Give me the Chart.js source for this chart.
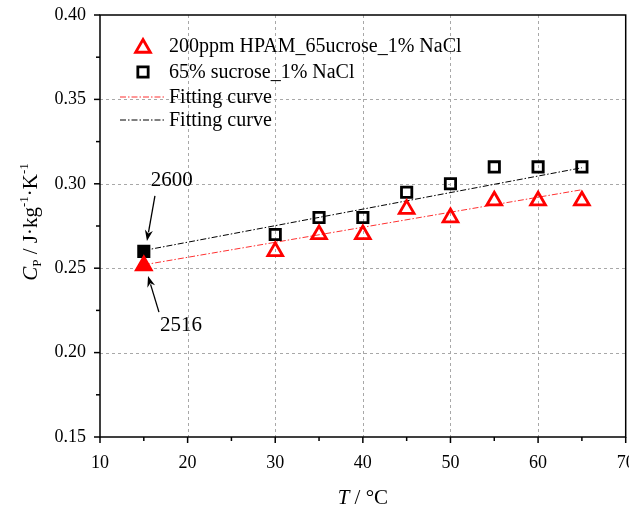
<!DOCTYPE html>
<html>
<head>
<meta charset="utf-8">
<script src="https://cdn.jsdelivr.net/npm/chart.js@4.4.1/dist/chart.umd.min.js"></script>
<style>
  html, body { margin: 0; padding: 0; background: #fff; width: 629px; height: 507px; overflow: hidden; }
  #wrap { width: 637px; height: 507px; position: relative; }
</style>
</head>
<body>
<div id="wrap"><canvas id="c"></canvas></div>
<script>
// Temperatures (°C) and specific heat readings
const temps = [15, 30, 35, 40, 45, 50, 55, 60, 65];
const cpHpam = [0.2516, 0.26, 0.27, 0.27, 0.285, 0.28, 0.29, 0.29, 0.29];
const cpSucrose = [0.26, 0.27, 0.28, 0.28, 0.295, 0.30, 0.31, 0.31, 0.31];

// Linear fit end points
const fitT = [15, 65];
const fitHpam = [0.252, 0.2965];
const fitSucrose = [0.2605, 0.3095];

// Axis ticks
const xTicks = [10, 20, 30, 40, 50, 60, 70];
const yTicks = [0.15, 0.20, 0.25, 0.30, 0.35, 0.40];

const seriesNames = ['200ppm HPAM_65ucrose_1% NaCl', '65% sucrose_1% NaCl', 'Fitting curve', 'Fitting curve'];

const SERIF = "'Liberation Serif', 'Times New Roman', serif";
const RED = '#ff0000';

const toPts = (xs, ys) => xs.map((x, i) => ({ x, y: ys[i] }));
const fillFirst = (color, n) => Array.from({ length: n }, (_, i) => i === 0 ? color : 'rgba(0,0,0,0)');

// Callouts that mark the starting values (value shown in J·kg⁻¹·K⁻¹ ×10⁴)
const callouts = [
  { value: cpSucrose[0], label: [18.2, 0.3022], tail: [16.27, 0.2928], head: [15.36, 0.2661] },
  { value: cpHpam[0],    label: [19.24, 0.2163], tail: [16.73, 0.2240], head: [15.48, 0.2454] }
];

function richText(ctx, parts, x, y, align) {
  let total = 0;
  parts.forEach(p => {
    ctx.font = (p.italic ? 'italic ' : '') + p.size + 'px ' + SERIF;
    p.w = ctx.measureText(p.t).width;
    total += p.w;
  });
  let cx = align === 'center' ? x - total / 2 : x;
  ctx.textBaseline = 'alphabetic';
  ctx.textAlign = 'left';
  parts.forEach(p => {
    ctx.font = (p.italic ? 'italic ' : '') + p.size + 'px ' + SERIF;
    ctx.fillText(p.t, cx, y + (p.dy || 0));
    cx += p.w;
  });
}

function strokeMarker(ctx, d, cx, cy) {
  ctx.strokeStyle = d.borderColor;
  ctx.lineWidth = d.borderWidth;
  ctx.beginPath();
  const r = d.pointRadius;
  if (d.pointStyle === 'triangle') {
    ctx.moveTo(cx, cy - r);
    ctx.lineTo(cx + r * Math.sin(2 * Math.PI / 3), cy - r * Math.cos(2 * Math.PI / 3));
    ctx.lineTo(cx + r * Math.sin(4 * Math.PI / 3), cy - r * Math.cos(4 * Math.PI / 3));
    ctx.closePath();
  } else {
    const s = Math.SQRT1_2 * r;
    ctx.rect(cx - s, cy - s, 2 * s, 2 * s);
  }
  ctx.stroke();
}

const framePlugin = {
  id: 'frame',
  beforeDatasetsDraw(chart) {
    const { ctx, chartArea: a, scales: { x, y } } = chart;
    ctx.save();
    ctx.strokeStyle = '#a8a8a8';
    ctx.lineWidth = 1;
    ctx.setLineDash([3, 3]);
    xTicks.slice(1, -1).forEach(v => {
      const px = Math.round(x.getPixelForValue(v)) + 0.5;
      ctx.beginPath(); ctx.moveTo(px, a.top); ctx.lineTo(px, a.bottom); ctx.stroke();
    });
    yTicks.slice(1, -1).forEach(v => {
      const py = Math.round(y.getPixelForValue(v)) + 0.5;
      ctx.beginPath(); ctx.moveTo(a.left, py); ctx.lineTo(a.right, py); ctx.stroke();
    });
    ctx.restore();
  },
  afterDatasetsDraw(chart) {
    const { ctx, chartArea: a, scales: { x, y } } = chart;
    ctx.save();
    ctx.strokeStyle = '#000';
    ctx.lineWidth = 1.5;
    ctx.strokeRect(a.left, a.top, a.right - a.left, a.bottom - a.top);
    // tick marks, major and minor, pointing outward
    for (let v = 10; v <= 70; v += 5) {
      const px = x.getPixelForValue(v);
      const len = v % 10 === 0 ? 6 : 4;
      ctx.beginPath(); ctx.moveTo(px, a.bottom); ctx.lineTo(px, a.bottom + len); ctx.stroke();
    }
    for (let i = 0; i <= 10; i++) {
      const v = 0.15 + i * 0.025;
      const py = y.getPixelForValue(v);
      const len = i % 2 === 0 ? 6 : 4;
      ctx.beginPath(); ctx.moveTo(a.left, py); ctx.lineTo(a.left - len, py); ctx.stroke();
    }
    ctx.restore();
  },
  afterDraw(chart) {
    const { ctx, chartArea: a, scales: { x, y } } = chart;
    const ds = chart.data.datasets;
    ctx.save();
    ctx.fillStyle = '#000';

    // axis titles
    richText(ctx, [
      { t: 'T', size: 21, italic: true },
      { t: ' / °C', size: 21 }
    ], (a.left + a.right) / 2, 504, 'center');

    ctx.save();
    ctx.translate(37, 222);
    ctx.rotate(-Math.PI / 2);
    richText(ctx, [
      { t: 'C', size: 21, italic: true },
      { t: 'P', size: 13, dy: 4 },
      { t: ' / J·kg', size: 21 },
      { t: '-1', size: 13, dy: -9 },
      { t: '·K', size: 21 },
      { t: '-1', size: 13, dy: -9 }
    ], 0, 0, 'center');
    ctx.restore();

    // legend
    const rows = [46, 72, 97, 120];
    const symX = 143, textX = 169;
    strokeMarker(ctx, ds[2], symX, rows[0] + 2);
    strokeMarker(ctx, ds[3], symX, rows[1]);
    [ds[0], ds[1]].forEach((d, i) => {
      ctx.strokeStyle = d.borderColor;
      ctx.lineWidth = d.borderWidth;
      ctx.setLineDash(d.borderDash);
      ctx.beginPath(); ctx.moveTo(120, rows[i + 2]); ctx.lineTo(164, rows[i + 2]); ctx.stroke();
      ctx.setLineDash([]);
    });
    ctx.font = '20px ' + SERIF;
    ctx.fillStyle = '#000';
    ctx.textAlign = 'left';
    ctx.textBaseline = 'middle';
    seriesNames.forEach((n, i) => ctx.fillText(n, textX, rows[i] + 1));

    // callouts with arrows
    callouts.forEach(c => {
      ctx.font = '21px ' + SERIF;
      ctx.textAlign = 'center';
      ctx.textBaseline = 'middle';
      ctx.fillStyle = '#000';
      ctx.fillText(String(Math.round(c.value * 10000)), x.getPixelForValue(c.label[0]), y.getPixelForValue(c.label[1]));
      const x0 = x.getPixelForValue(c.tail[0]), y0 = y.getPixelForValue(c.tail[1]);
      const x1 = x.getPixelForValue(c.head[0]), y1 = y.getPixelForValue(c.head[1]);
      const ang = Math.atan2(y1 - y0, x1 - x0);
      const hl = 11, hw = 4;
      ctx.strokeStyle = '#000';
      ctx.lineWidth = 1.3;
      ctx.beginPath();
      ctx.moveTo(x0, y0);
      ctx.lineTo(x1 - Math.cos(ang) * hl * 0.8, y1 - Math.sin(ang) * hl * 0.8);
      ctx.stroke();
      ctx.beginPath();
      ctx.moveTo(x1, y1);
      ctx.lineTo(x1 - Math.cos(ang) * hl - Math.sin(ang) * hw, y1 - Math.sin(ang) * hl + Math.cos(ang) * hw);
      ctx.lineTo(x1 - Math.cos(ang) * hl * 0.7, y1 - Math.sin(ang) * hl * 0.7);
      ctx.lineTo(x1 - Math.cos(ang) * hl + Math.sin(ang) * hw, y1 - Math.sin(ang) * hl - Math.cos(ang) * hw);
      ctx.closePath();
      ctx.fill();
    });
    ctx.restore();
  }
};

new Chart(document.getElementById('c'), {
  type: 'scatter',
  data: {
    datasets: [
      {
        type: 'line', data: toPts(fitT, fitHpam), borderColor: '#ff3030', borderWidth: 1,
        borderDash: [6, 2, 1.5, 2], pointRadius: 0, fill: false, order: 3
      },
      {
        type: 'line', data: toPts(fitT, fitSucrose), borderColor: '#000', borderWidth: 1,
        borderDash: [6, 2, 1.5, 2], pointRadius: 0, fill: false, order: 4
      },
      {
        data: toPts(temps, cpHpam), pointStyle: 'triangle', pointRadius: 8.5, pointHoverRadius: 8.5,
        borderColor: RED, pointBorderColor: RED, borderWidth: 2.8, pointBorderWidth: 2.8,
        pointBackgroundColor: fillFirst(RED, temps.length), order: 1
      },
      {
        data: toPts(temps, cpSucrose), pointStyle: 'rect', pointRadius: 7.3, pointHoverRadius: 7.3,
        borderColor: '#000', pointBorderColor: '#000', borderWidth: 2.8, pointBorderWidth: 2.8,
        pointBackgroundColor: fillFirst('#000', temps.length), order: 2
      }
    ]
  },
  options: {
    responsive: true,
    maintainAspectRatio: false,
    animation: false,
    events: [],
    layout: { padding: { top: 15, right: 3, left: 0, bottom: 0 } },
    plugins: { legend: { display: false }, tooltip: { enabled: false } },
    scales: {
      x: {
        type: 'linear', min: 10, max: 70,
        afterBuildTicks: s => { s.ticks = xTicks.map(v => ({ value: v })); },
        afterFit: s => { s.height = 70; s.paddingLeft = 0; s.paddingRight = 0; },
        grid: { display: false, drawTicks: false },
        border: { display: false },
        ticks: { color: '#000', padding: 15, maxRotation: 0, font: { family: SERIF, size: 18 } }
      },
      y: {
        type: 'linear', min: 0.15, max: 0.40,
        afterBuildTicks: s => { s.ticks = yTicks.map(v => ({ value: v })); },
        afterFit: s => { s.width = 100; s.paddingTop = 0; s.paddingBottom = 0; },
        grid: { display: false, drawTicks: false },
        border: { display: false },
        ticks: { color: '#000', padding: 14, font: { family: SERIF, size: 18 }, callback: v => v.toFixed(2) }
      }
    }
  },
  plugins: [framePlugin]
});
</script>
</body>
</html>
